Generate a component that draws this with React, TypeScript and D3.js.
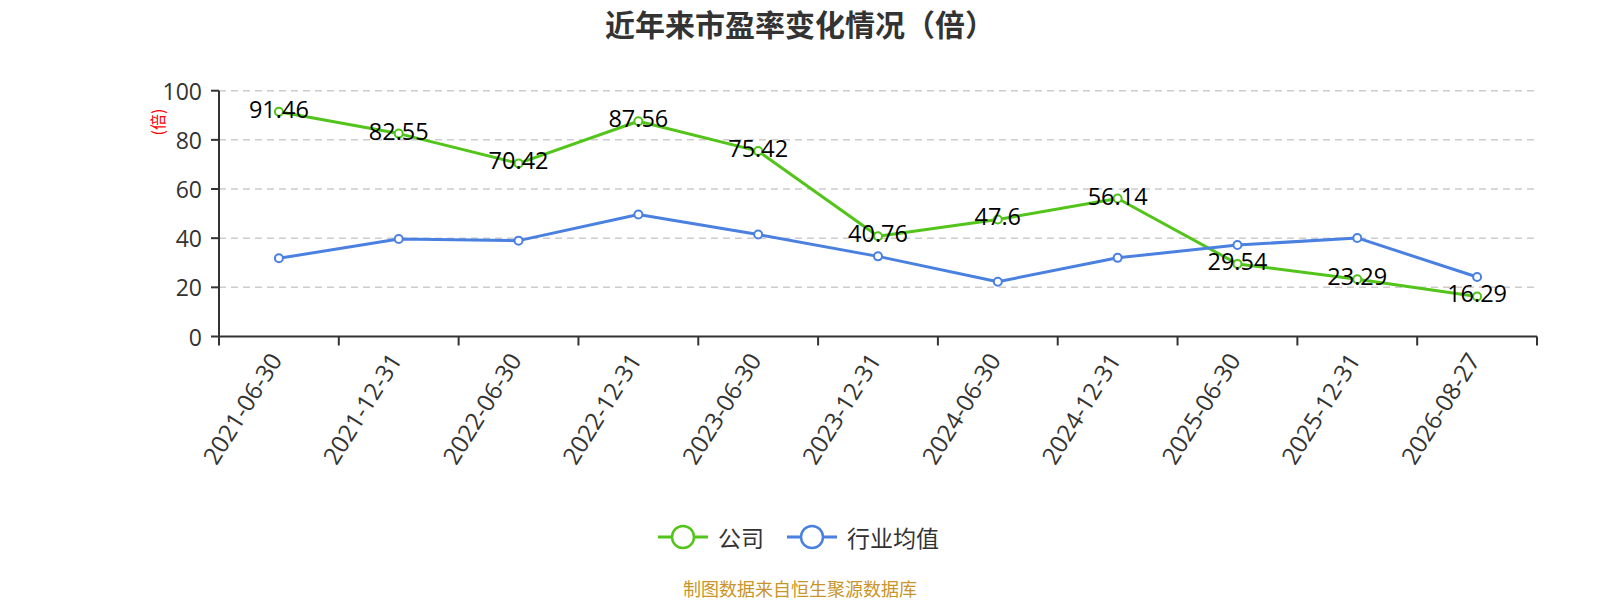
import React from "react";
import * as d3 from "d3";

const categories = [
  "2021-06-30", "2021-12-31", "2022-06-30", "2022-12-31", "2023-06-30", "2023-12-31",
  "2024-06-30", "2024-12-31", "2025-06-30", "2025-12-31", "2026-08-27",
];
const companyValues = [91.46, 82.55, 70.42, 87.56, 75.42, 40.76, 47.6, 56.14, 29.54, 23.29, 16.29];
const industryValues = [31.8, 39.7, 39.0, 49.6, 41.5, 32.6, 22.3, 32.0, 37.2, 40.1, 24.2];
const yTicks = [0, 20, 40, 60, 80, 100];
const seriesNames = ["公司", "行业均值"];
const titleText = "近年来市盈率变化情况（倍）";
const yAxisName = "(倍)";
const footerText = "制图数据来自恒生聚源数据库";

const GREEN = "#52c41a";
const BLUE = "#4a80e0";
const FONT = "'Noto Sans CJK SC', 'Noto Sans', sans-serif";
const NUMFONT = "'Open Sans', 'Noto Sans CJK SC', sans-serif";

export default function App() {
  const W = 1600, H = 600;
  const left = 219, right = 1537, top = 90.7, bottom = 336.5;
  const x = d3.scaleBand<string>().domain(categories).range([left, right]);
  const y = d3.scaleLinear().domain([0, 100]).range([bottom, top]);
  const cx = (c: string) => (x(c) as number) + x.bandwidth() / 2;
  const line = d3.line<number>().x((_, i) => cx(categories[i])).y((d) => y(d));
  const tickXs = categories.map((c) => x(c) as number).concat([right]);

  const series = [
    { name: seriesNames[0], values: companyValues, color: GREEN },
    { name: seriesNames[1], values: industryValues, color: BLUE },
  ];

  return (
    <svg width={W} height={H} style={{ position: "absolute", left: 0, top: 0, background: "#fff" }} fontFamily={FONT}>
      <text x={800} y={23} textAnchor="middle" dominantBaseline="central" fontSize={30} fontWeight="bold" fill="#333">
        {titleText}
      </text>

      {/* grid */}
      {yTicks.filter((t) => t > 0).map((t) => (
        <line key={t} x1={left} x2={right} y1={y(t)} y2={y(t)} stroke="#ccc" strokeWidth={1.5} strokeDasharray="7,5" />
      ))}

      {/* y axis */}
      <line x1={left} x2={left} y1={top} y2={bottom} stroke="#333" strokeWidth={2} />
      {yTicks.map((t) => (
        <g key={t}>
          <line x1={left - 8} x2={left} y1={y(t)} y2={y(t)} stroke="#333" strokeWidth={2} />
          <text x={left - 17} y={y(t)} textAnchor="end" dominantBaseline="central" fontSize={23} fill="#333" fontFamily={NUMFONT}>
            {t}
          </text>
        </g>
      ))}
      <text
        transform={`translate(157,122) rotate(-90)`}
        textAnchor="middle"
        dominantBaseline="central"
        fontSize={16}
        fill="#ff0000"
      >
        {yAxisName}
      </text>

      {/* x axis */}
      <line x1={left} x2={right} y1={bottom} y2={bottom} stroke="#333" strokeWidth={2} />
      {tickXs.map((tx, i) => (
        <line key={i} x1={tx} x2={tx} y1={bottom} y2={bottom + 9} stroke="#333" strokeWidth={2} />
      ))}
      {categories.map((c) => (
        <text
          key={c}
          transform={`translate(${cx(c) - 4},${bottom + 18.5}) rotate(-58)`}
          textAnchor="end"
          dominantBaseline="central"
          fontSize={24}
          fill="#333"
          fontFamily={NUMFONT}
        >
          {c}
        </text>
      ))}

      {/* series */}
      {series.map((s) => (
        <g key={s.name}>
          <path d={line(s.values) || ""} fill="none" stroke={s.color} strokeWidth={3} strokeLinejoin="round" />
          {s.values.map((v, i) => (
            <circle key={i} cx={cx(categories[i])} cy={y(v)} r={4} fill="#fff" stroke={s.color} strokeWidth={2} />
          ))}
        </g>
      ))}

      {/* company labels */}
      {companyValues.map((v, i) => (
        <text
          key={i}
          x={cx(categories[i])}
          y={y(v) - 3}
          textAnchor="middle"
          dominantBaseline="central"
          fontSize={23.5}
          fill="#000"
          fontFamily={NUMFONT}
        >
          {v}
        </text>
      ))}

      {/* legend */}
      {[
        { lx: 658, name: seriesNames[0], color: GREEN },
        { lx: 787, name: seriesNames[1], color: BLUE },
      ].map((l) => (
        <g key={l.name}>
          <line x1={l.lx} x2={l.lx + 50} y1={537} y2={537} stroke={l.color} strokeWidth={3} />
          <circle cx={l.lx + 25} cy={537} r={11} fill="#fff" stroke={l.color} strokeWidth={2.5} />
          <text x={l.lx + 60} y={537} dominantBaseline="central" fontSize={23} fill="#333">
            {l.name}
          </text>
        </g>
      ))}

      <text x={800} y={588} textAnchor="middle" dominantBaseline="central" fontSize={18} fill="#c9952b">
        {footerText}
      </text>
    </svg>
  );
}
